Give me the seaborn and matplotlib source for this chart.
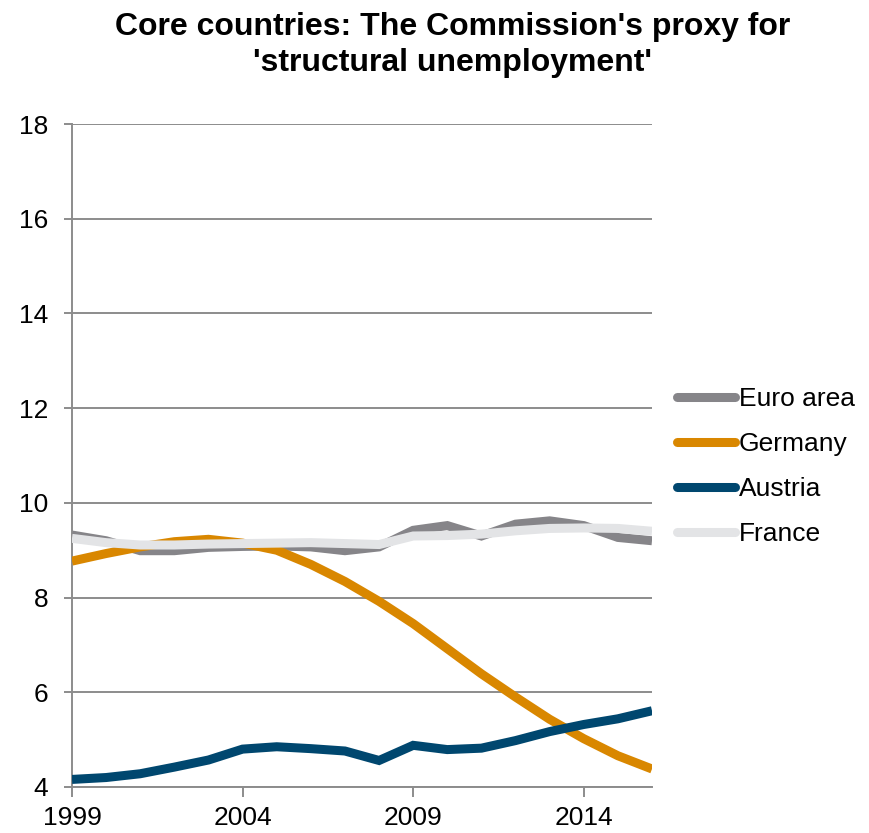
import matplotlib
matplotlib.use("Agg")
import matplotlib.pyplot as plt
from matplotlib import font_manager
from matplotlib.lines import Line2D
import seaborn as sns
import pandas as pd

years = list(range(1999, 2017))

euro_area = [9.32, 9.20, 8.99, 8.99, 9.06, 9.08, 9.09, 9.07, 8.99, 9.07,
             9.42, 9.52, 9.30, 9.55, 9.62, 9.52, 9.27, 9.20]
germany = [8.77, 8.93, 9.07, 9.18, 9.23, 9.15, 9.00, 8.70, 8.34, 7.92,
           7.45, 6.92, 6.39, 5.90, 5.43, 5.02, 4.66, 4.38]
austria = [4.16, 4.20, 4.28, 4.42, 4.57, 4.80, 4.85, 4.81, 4.76, 4.56,
           4.88, 4.79, 4.82, 4.98, 5.17, 5.32, 5.44, 5.61]
france = [9.25, 9.16, 9.11, 9.11, 9.13, 9.14, 9.15, 9.16, 9.14, 9.12,
          9.30, 9.31, 9.34, 9.41, 9.46, 9.47, 9.46, 9.40]

series_names = ["Euro area", "Germany", "Austria", "France"]
series_colors = ["#868589", "#D98700", "#00476F", "#E3E4E6"]
x_ticks = [1999, 2004, 2009, 2014]
y_ticks = [4, 6, 8, 10, 12, 14, 16, 18]

df = pd.DataFrame({
    "year": years * 4,
    "value": euro_area + germany + austria + france,
    "series": sum([[n] * len(years) for n in series_names], []),
})

sns.set_theme(style="white")
installed = {f.name for f in font_manager.fontManager.ttflist}
body_font = "Liberation Sans" if "Liberation Sans" in installed else "DejaVu Sans"
title_font = "Liberation Sans Narrow" if "Liberation Sans Narrow" in installed else body_font
plt.rcParams["font.family"] = [body_font, "DejaVu Sans"]
plt.rcParams["text.color"] = "black"
plt.rcParams["xtick.color"] = "black"
plt.rcParams["ytick.color"] = "black"

grid_color = "#8C8C8C"

fig = plt.figure(figsize=(8.7, 8.33), dpi=100)
ax = fig.add_axes([72 / 870, 1 - 787 / 833, (652 - 72) / 870, (787 - 124) / 833])

palette = dict(zip(series_names, series_colors))
sns.lineplot(data=df, x="year", y="value", hue="series", hue_order=series_names,
             palette=palette, linewidth=6.5, legend=False, ax=ax,
             solid_capstyle="butt", solid_joinstyle="miter", zorder=3)

ax.set_xlim(1999, 2016)
ax.set_ylim(4, 18)
ax.set_xticks(x_ticks)
ax.set_yticks(y_ticks)
ax.set_xticklabels([str(t) for t in x_ticks])
ax.set_yticklabels([str(t) for t in y_ticks])
ax.set_xlabel("")
ax.set_ylabel("")

ax.yaxis.grid(True, color=grid_color, linewidth=1.4)
ax.xaxis.grid(False)
for side in ["top", "right"]:
    ax.spines[side].set_visible(False)
for side in ["left", "bottom"]:
    ax.spines[side].set_color(grid_color)
    ax.spines[side].set_linewidth(1.4)
ax.spines["bottom"].set_zorder(1)

ax.tick_params(axis="y", which="major", direction="out", length=6, width=1.4,
               color=grid_color, pad=11, labelsize=19, labelcolor="black", left=True)
ax.tick_params(axis="x", which="major", direction="out", length=7, width=1.4,
               color=grid_color, pad=7, labelsize=19, labelcolor="black", bottom=True)

handles = [Line2D([0], [0], color=c, linewidth=6.5, solid_capstyle="round")
           for c in series_colors]
fig.legend(handles, series_names, loc="upper left",
           bbox_to_anchor=(677 / 870, 1 - 387 / 833), frameon=False,
           fontsize=19, handlelength=2.2, handletextpad=0.15,
           labelspacing=0.8, borderpad=0, borderaxespad=0,
           labelcolor="black")

fig.text(0.52, 1 - 12 / 833,
         "Core countries: The Commission's proxy for\n'structural unemployment'",
         ha="center", va="top", fontsize=23, fontweight="bold", color="black",
         family=[title_font, "DejaVu Sans"], linespacing=1.25)

fig.savefig("out.png", dpi=100)
